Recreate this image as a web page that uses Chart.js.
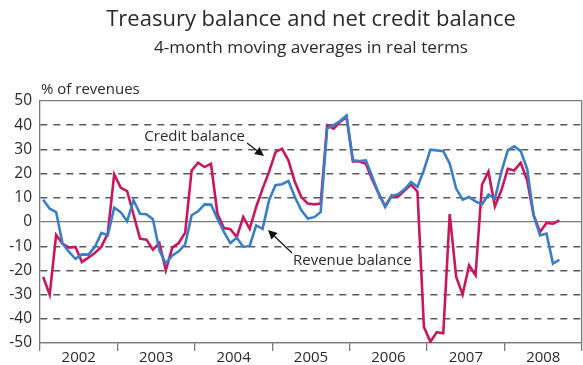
<!DOCTYPE html>
<html>
<head>
<meta charset="utf-8">
<script src="https://cdn.jsdelivr.net/npm/chart.js@4.4.0/dist/chart.umd.min.js"></script>
<style>
  html, body { margin: 0; padding: 0; background: #fff; }
  #wrap { width: 583px; height: 365px; }
</style>
</head>
<body>
<div id="wrap"><canvas id="chart"></canvas></div>
<script>
// years on the x axis, one tick per year, 12 months each
const years = ['2002', '2003', '2004', '2005', '2006', '2007', '2008']
const yTicks = [-50, -40, -30, -20, -10, 0, 10, 20, 30, 40, 50]

// monthly values from Jan 2002, % of revenues
const creditBalance = [
    -22.7, -30, -5.4, -9, -10.6, -10.3, -16.5, -14.7, -12.8, -10.3, -4.8, 19.7,
    14.2, 12.8, 3, -6.9, -7.3, -11.4, -8.7, -20, -10.6, -8.7, -4.4, 21.3,
    24.5, 22.7, 24.1, 3.4, -2.5, -3, -6.2, 2.1, -2.8, 6.2, 13.8, 20.7,
    28.9, 30.3, 25.5, 16.5, 10.3, 7.6, 7.3, 7.6, 40, 38.6, 41.3, 43.4,
    25, 25, 24.1, 17.5, 11.7, 6.5, 11, 10.5, 13, 15.5, 12.5, -43.4,
    -49.5, -45.5, -46, 3.3, -22.7, -29.9, -17.9, -22, 15.4, 20.8, 6.5, 13.1,
    22, 21.3, 24.5, 17.2, 2.8, -4.1, -0.4, -0.7, 0.7
]
const revenueBalance = [
    9.2, 5.5, 4.1, -9, -12.4, -15.2, -13.4, -13.5, -10.3, -4.5, -5.5, 5.9,
    4.1, 0.4, 9, 3.4, 3.2, 1.1, -11.7, -17.2, -13.8, -12.1, -9.2, 2.8,
    4.4, 7.3, 7.2, 1.4, -4.1, -8.7, -6.5, -10.3, -9.9, -1.4, -2.8, 9,
    15.2, 15.6, 16.9, 10.3, 4.8, 1.4, 2, 4.1, 38.6, 40, 41.7, 44,
    25.5, 25.2, 25.5, 18.6, 11.7, 6.2, 10.7, 11.5, 13.5, 16.5, 14.5, 21.5,
    29.9, 29.6, 29.3, 24.1, 13.8, 9.2, 10.3, 8.5, 7.3, 11.3, 9.6, 20.7,
    29.6, 31.3, 29.3, 22, 2.8, -5.5, -4.8, -17.2, -15.6
]

const RED = '#c8175d'
const BLUE = '#3a7fc6'
const GRID = '#5a5a5a'
const FRAME = '#7a7a7a'
const TEXT = '#2a2a2a'
const FONT = "'Open Sans', sans-serif"

// points sit in the middle of each month
const toPoints = arr => arr.map((v, i) => ({ x: i + 0.5, y: v }))

function arrow(ctx, x1, y1, x2, y2) {
    const a = Math.atan2(y2 - y1, x2 - x1)
    const len = 9, w = 4.5
    ctx.beginPath()
    ctx.moveTo(x1, y1)
    ctx.lineTo(x2 - Math.cos(a) * len, y2 - Math.sin(a) * len)
    ctx.stroke()
    ctx.beginPath()
    ctx.moveTo(x2, y2)
    ctx.lineTo(x2 - Math.cos(a) * len - Math.sin(a) * w, y2 - Math.sin(a) * len + Math.cos(a) * w)
    ctx.lineTo(x2 - Math.cos(a) * len + Math.sin(a) * w, y2 - Math.sin(a) * len - Math.cos(a) * w)
    ctx.closePath()
    ctx.fill()
}

// titles are centred over the plot area, not the whole canvas
const extras = {
    id: 'extras',
    afterDraw(chart) {
        const { ctx, chartArea } = chart
        const mid = (chartArea.left + chartArea.right) / 2
        ctx.save()
        ctx.fillStyle = TEXT
        ctx.textBaseline = 'middle'
        ctx.textAlign = 'center'
        ctx.font = '22px ' + FONT
        ctx.fillText('Treasury balance and net credit balance', mid, 20)
        ctx.font = '17.2px ' + FONT
        ctx.fillText('4-month moving averages in real terms', mid, 48)

        ctx.font = '15px ' + FONT
        ctx.textAlign = 'left'
        ctx.fillText('% of revenues', chartArea.left + 1, 90)

        // labels with arrows
        ctx.textAlign = 'right'
        ctx.fillText('Credit balance', 245, 137)
        ctx.textAlign = 'left'
        ctx.fillText('Revenue balance', 293, 261)
        ctx.strokeStyle = '#111'
        ctx.fillStyle = '#111'
        ctx.lineWidth = 1.2
        arrow(ctx, 247, 143, 264, 156)
        arrow(ctx, 292, 253, 268, 230)
        ctx.restore()
    }
}

new Chart(document.getElementById('chart'), {
    type: 'line',
    data: {
        datasets: [
            {
                label: 'Revenue balance',
                data: toPoints(revenueBalance),
                borderColor: BLUE,
                borderWidth: 2.6,
                pointRadius: 0,
                tension: 0,
            },
            {
                label: 'Credit balance',
                data: toPoints(creditBalance),
                borderColor: RED,
                borderWidth: 2.6,
                pointRadius: 0,
                tension: 0,
            },
        ]
    },
    options: {
        responsive: true,
        maintainAspectRatio: false,
        animation: false,
        layout: { padding: { left: 0, right: 1, top: 101, bottom: 0 } },
        plugins: {
            legend: { display: false },
            tooltip: { enabled: false },
            title: { display: false },
        },
        scales: {
            x: {
                type: 'linear',
                min: 0,
                max: years.length * 12,
                afterFit: s => { s.height = 22 },
                afterBuildTicks: s => {
                    const t = []
                    for (let v = 0; v <= years.length * 12; v += 6) t.push({ value: v })
                    s.ticks = t
                },
                ticks: {
                    autoSkip: false,
                    maxRotation: 0,
                    padding: -2,
                    color: TEXT,
                    font: { family: FONT, size: 15 },
                    callback: v => (v % 12 === 6 ? years[(v - 6) / 12] : ''),
                },
                grid: {
                    drawOnChartArea: true,
                    tickLength: 8,
                    lineWidth: 1.3,
                    color: c => (c.tick && c.tick.value === years.length * 12 ? FRAME : 'transparent'),
                    tickColor: c => (c.tick && c.tick.value % 12 === 0 ? FRAME : 'transparent'),
                },
                border: { color: FRAME, width: 1.3 },
            },
            y: {
                min: yTicks[0],
                max: yTicks[yTicks.length - 1],
                afterFit: s => { s.width = 40 },
                afterBuildTicks: s => { s.ticks = yTicks.map(v => ({ value: v })) },
                ticks: {
                    padding: 8,
                    color: TEXT,
                    font: { family: FONT, size: 15.5 },
                },
                grid: {
                    drawTicks: false,
                    lineWidth: c => (c.tick && (c.tick.value === 0 || Math.abs(c.tick.value) === 50) ? 1.3 : 1.4),
                    color: c => (c.tick && (c.tick.value === 0 || Math.abs(c.tick.value) === 50) ? FRAME : GRID),
                },
                border: {
                    color: FRAME,
                    width: 1.3,
                    dash: c => (c.tick && (c.tick.value === 0 || Math.abs(c.tick.value) === 50) ? [] : [7, 6]),
                },
            },
        },
    },
    plugins: [extras],
})
</script>
</body>
</html>
